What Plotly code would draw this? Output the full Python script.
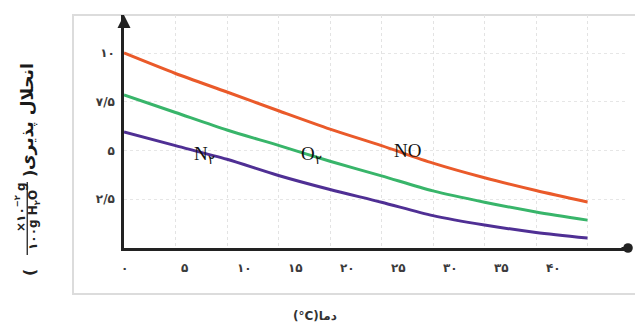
import plotly.graph_objects as go

# ---------------- data ----------------
temps = [0, 5, 10, 15, 20, 25, 30, 35, 40, 45]
no_sol = [10.0, 8.95, 8.0, 7.04, 6.1, 5.25, 4.35, 3.6, 2.95, 2.36]
o2_sol = [7.85, 6.95, 6.05, 5.26, 4.45, 3.7, 2.93, 2.35, 1.85, 1.43]
n2_sol = [5.95, 5.25, 4.55, 3.72, 3.0, 2.35, 1.66, 1.18, 0.8, 0.51]

x_tick_vals = [0, 5, 10, 15, 20, 25, 30, 35, 40]
x_tick_text = ["۰", "۵", "۱۰", "۱۵", "۲۰", "۲۵", "۳۰", "۳۵", "۴۰"]
y_tick_vals = [2.5, 5, 7.5, 10]
y_tick_text = ["<b>۲/۵</b>", "<b>۵</b>", "<b>۷/۵</b>", "<b>۱۰</b>"]

series_names = ["NO", "O<sub>۲</sub>", "N<sub>۲</sub>"]
series_label_x = [27.5, 18.2, 7.8]
series_label_y = [5.0, 4.75, 4.75]

x_title = "<b>(°C)دما</b>"
y_title = "<b>انحلال پذیری</b>"
y_num = "<b>×۱۰<sup>−۲</sup> g</b>"
y_den = "<b>۱۰۰g H<sub>۲</sub>O</b>"

# ---------------- layout geometry ----------------
W, H = 635, 326
L, R, T, B = 124, 628, 15, 248
X_MAX = (R - L) / 10.3
Y_MAX = (B - T) / 19.5


def px(xp):
    return (xp - L) / (R - L)


def py(yp):
    return (B - yp) / (B - T)


colors = ["#ea5a2a", "#38b56a", "#4f2f94"]
series = [no_sol, o2_sol, n2_sol]

fig = go.Figure()
for vals, c in zip(series, colors):
    fig.add_trace(go.Scatter(x=temps, y=vals, mode="lines",
                             line=dict(color=c, width=3, shape="spline", smoothing=0.8),
                             hoverinfo="skip", showlegend=False))

CM = dict(xanchor="center", yanchor="middle", showarrow=False)

annotations = []
for name, lx, ly in zip(series_names, series_label_x, series_label_y):
    annotations.append(dict(x=lx, y=ly, xref="x", yref="y", text=name, **CM,
                            font=dict(family="Liberation Serif", size=19, color="#111")))

for v, t in zip(x_tick_vals, x_tick_text):
    shift = 0 if v == 0 else (9 if v == 5 else 17)
    annotations.append(dict(x=v, y=py(268), xref="x", yref="paper", text="<b>" + t + "</b>",
                            xshift=shift, **CM,
                            font=dict(family="DejaVu Sans", size=12, color="#3a3a3a")))

annotations.append(dict(x=0, y=Y_MAX, xref="x", yref="y", ax=0, ay=14,
                        text="", showarrow=True, arrowhead=2, arrowsize=1.3, arrowwidth=2,
                        arrowcolor="#222"))
annotations.append(dict(x=X_MAX, y=0, xref="x", yref="y", ax=-8, ay=0,
                        text="", showarrow=True, arrowhead=6, arrowsize=1.2, arrowwidth=2,
                        arrowcolor="#222"))

annotations.append(dict(x=px(315), y=py(316), xref="paper", yref="paper", text=x_title, **CM,
                        font=dict(family="DejaVu Sans", size=12, color="#333")))
annotations.append(dict(x=px(28), y=py(117), xref="paper", yref="paper", text=y_title,
                        textangle=-90, **CM,
                        font=dict(family="DejaVu Sans", size=17, color="#1a1a1a")))
annotations.append(dict(x=px(20), y=py(207), xref="paper", yref="paper", text=y_num,
                        textangle=-90, **CM,
                        font=dict(family="DejaVu Sans", size=12, color="#222")))
annotations.append(dict(x=px(34), y=py(220), xref="paper", yref="paper", text=y_den,
                        textangle=-90, **CM,
                        font=dict(family="DejaVu Sans", size=12, color="#222")))
annotations.append(dict(x=px(29), y=py(273), xref="paper", yref="paper", text="<b>(</b>",
                        textangle=-90, **CM,
                        font=dict(family="DejaVu Sans", size=16, color="#222")))
annotations.append(dict(x=px(29), y=py(174), xref="paper", yref="paper", text="<b>)</b>",
                        textangle=-90, **CM,
                        font=dict(family="DejaVu Sans", size=16, color="#222")))

shapes = [
    dict(type="rect", xref="paper", yref="paper", x0=px(73), x1=px(640), y0=py(294), y1=py(15),
         line=dict(color="#dcdcdc", width=2), layer="below"),
    dict(type="rect", xref="paper", yref="paper", x0=px(26.6), x1=px(27.9),
         y0=py(255), y1=py(182), fillcolor="#222", line=dict(width=0)),
]

fig.update_layout(
    width=W, height=H,
    margin=dict(l=L, r=W - R, t=T, b=H - B),
    paper_bgcolor="white", plot_bgcolor="white",
    xaxis=dict(range=[0, X_MAX], tickvals=[0, 5, 10, 15, 20, 25, 30, 35, 40, 45],
               showticklabels=False, ticks="", showgrid=True, gridcolor="#e3e3e3",
               griddash="dot", gridwidth=1, zeroline=False, showline=True,
               linecolor="#222", linewidth=2.5, fixedrange=True),
    yaxis=dict(range=[0, Y_MAX], tickvals=y_tick_vals, ticktext=y_tick_text,
               tickfont=dict(family="DejaVu Sans", size=12, color="#3a3a3a"),
               ticks="", showgrid=True, gridcolor="#e6e6e6", griddash="dot", gridwidth=1,
               zeroline=False, showline=True, linecolor="#222", linewidth=2.5,
               ticklabelstandoff=4, fixedrange=True),
    annotations=annotations,
    shapes=shapes,
    showlegend=False,
)

fig.write_html("out.html", config={"displayModeBar": False},
               post_script="document.body.style.margin='0';")
